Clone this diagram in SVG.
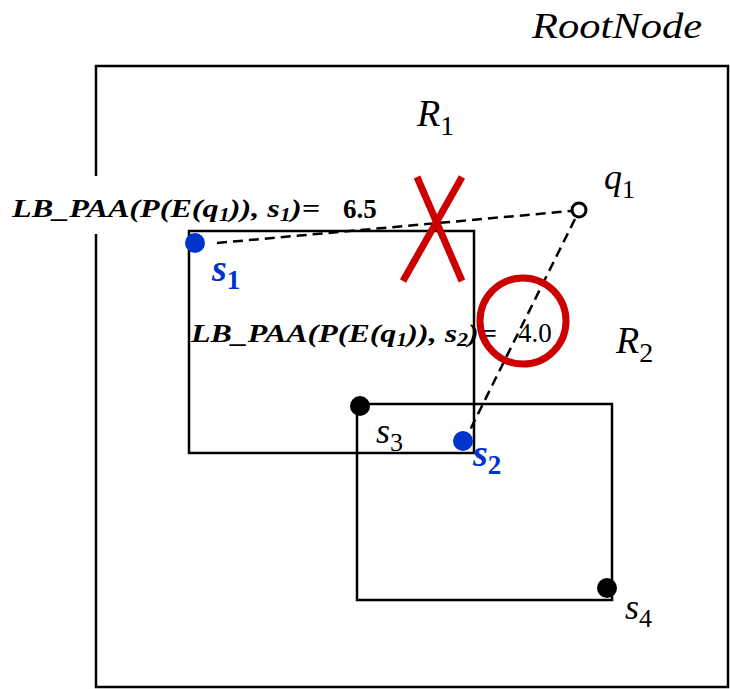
<svg xmlns="http://www.w3.org/2000/svg" width="730" height="689" viewBox="0 0 730 689">
<style>
.box{fill:none;stroke:#000;stroke-width:2.5}
.dash{fill:none;stroke:#000;stroke-width:2.5;stroke-dasharray:10 6}
.lbl{font-family:"Liberation Serif","Times New Roman",serif;fill:#000}
.it{font-style:italic}
.bi{font-style:italic;font-weight:bold}
.blue{fill:#0033cc;font-weight:bold;font-style:italic}
.red{fill:none;stroke:#cc0000;stroke-width:7}
</style>
<rect width="730" height="689" fill="#fff"/>
<g id="root">
<rect class="box" x="96" y="66" width="632" height="621"/>
<text class="lbl it" x="532" y="38" font-size="36" textLength="170" lengthAdjust="spacingAndGlyphs">RootNode</text>
</g>
<g id="R1">
<rect class="box" x="189" y="231" width="285" height="222"/>
<text class="lbl it" x="417" y="126" font-size="38">R<tspan font-style="normal" font-size="28" dy="9">1</tspan></text>
</g>
<g id="R2">
<rect class="box" x="357" y="404" width="255" height="196"/>
<text class="lbl it" x="616" y="353" font-size="38">R<tspan font-style="normal" font-size="28" dy="9">2</tspan></text>
</g>
<g id="connectors">
<line class="dash" x1="217" y1="243" x2="571" y2="211"/>
<line class="dash" x1="575" y1="219" x2="467" y2="436"/>
</g>
<g id="q1">
<circle cx="579" cy="210" r="7" fill="#fff" stroke="#000" stroke-width="3"/>
<text class="lbl it" x="604" y="189" font-size="36">q<tspan font-style="normal" font-size="26" dy="9">1</tspan></text>
</g>
<g id="s1">
<circle cx="195" cy="243" r="10" fill="#0033cc"/>
<text class="lbl blue" x="212" y="281" font-size="38">s<tspan font-style="normal" font-size="27" dy="8">1</tspan></text>
</g>
<g id="s2">
<circle cx="463" cy="441" r="10" fill="#0033cc"/>
<text class="lbl blue" x="473" y="466" font-size="38">s<tspan font-style="normal" font-size="27" dy="8">2</tspan></text>
</g>
<g id="s3">
<circle cx="360" cy="406" r="10" fill="#000"/>
<text class="lbl it" x="376" y="443" font-size="36">s<tspan font-style="normal" font-size="26" dy="8">3</tspan></text>
</g>
<g id="s4">
<circle cx="607" cy="588" r="10" fill="#000"/>
<text class="lbl it" x="625" y="619" font-size="36">s<tspan font-style="normal" font-size="26" dy="8">4</tspan></text>
</g>
<g id="label1">
<rect x="8" y="176" width="175" height="58" fill="#fff"/>
<text class="lbl bi" x="12" y="217" font-size="26" textLength="308" lengthAdjust="spacingAndGlyphs">LB_PAA(P(E(q<tspan font-size="18" dy="4">1</tspan><tspan dy="-4">)), s</tspan><tspan font-size="18" dy="4">1</tspan><tspan dy="-4">)=</tspan></text>
<text class="lbl" x="343" y="218" font-size="27" font-weight="bold">6.5</text>
</g>
<g id="label2">
<text class="lbl bi" x="191" y="342" font-size="26" textLength="306" lengthAdjust="spacingAndGlyphs">LB_PAA(P(E(q<tspan font-size="18" dy="4">1</tspan><tspan dy="-4">)), s</tspan><tspan font-size="18" dy="4">2</tspan><tspan dy="-4">)=</tspan></text>
<text class="lbl" x="518" y="342" font-size="27">4.0</text>
</g>
<g id="cross">
<line class="red" x1="417" y1="177" x2="462" y2="281"/>
<line class="red" x1="462" y1="177" x2="403" y2="281"/>
</g>
<g id="circle-mark">
<circle class="red" cx="523" cy="321" r="43"/>
</g>
</svg>
